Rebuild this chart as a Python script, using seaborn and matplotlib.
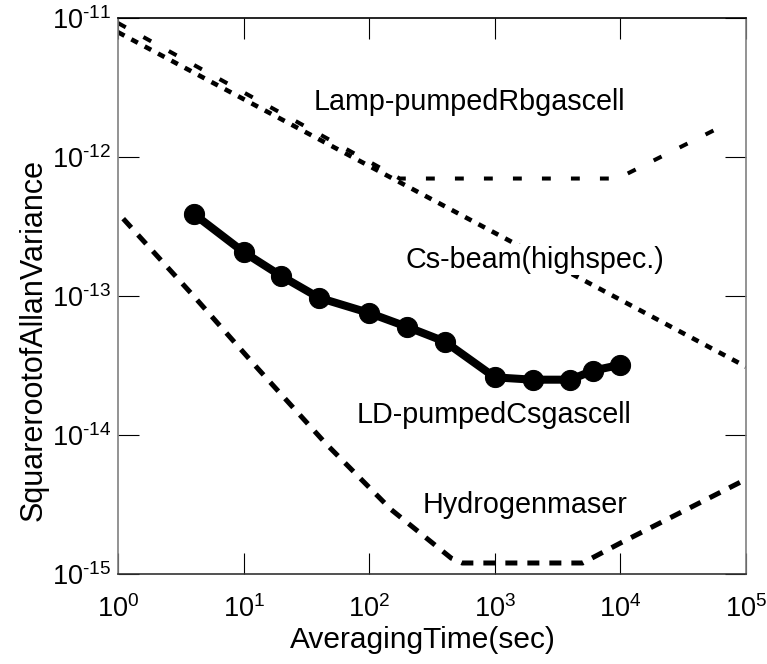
import math

import matplotlib
matplotlib.use("Agg")
import matplotlib.pyplot as plt
import seaborn as sns
from matplotlib.ticker import FixedLocator, FuncFormatter, NullLocator

# Lamp-pumped Rb gas cell
tau_rb = [1, 175, 9500, 72000]
adev_rb = [9.2e-12, 7.0e-13, 7.0e-13, 1.75e-12]

# Cs-beam (high spec.)
tau_cs = [1, 100000]
adev_cs = [7.9e-12, 3.1e-14]

# LD-pumped Cs gas cell (measured)
tau_ld = [4, 10, 20, 40, 100, 200, 400, 1000, 2000, 4000, 6000, 10000]
adev_ld = [3.9e-13, 2.07e-13, 1.39e-13, 9.7e-14, 7.55e-14, 6.0e-14, 4.7e-14,
           2.6e-14, 2.5e-14, 2.5e-14, 2.9e-14, 3.2e-14]

# Hydrogen maser
tau_h = [1.1, 4, 13, 45, 150, 450, 550, 5000, 10000, 100000]
adev_h = [3.6e-13, 1.0e-13, 3.0e-14, 8.7e-15, 2.9e-15, 1.3e-15, 1.2e-15,
          1.2e-15, 1.67e-15, 4.8e-15]

labels = ["Lamp-pumpedRbgascell", "Cs-beam(highspec.)",
          "LD-pumpedCsgascell", "Hydrogenmaser"]
label_pos = [(623, 2.49e-12), (2090, 1.82e-13), (986, 1.39e-14), (1740, 3.13e-15)]

x_ticks = [1, 10, 100, 1e3, 1e4, 1e5]
y_ticks = [1e-15, 1e-14, 1e-13, 1e-12, 1e-11]

sns.set_style("ticks")
plt.rcParams["font.family"] = ["Liberation Sans", "DejaVu Sans"]
plt.rcParams["mathtext.fontset"] = "custom"
plt.rcParams["mathtext.rm"] = "Liberation Sans"
plt.rcParams["mathtext.it"] = "Liberation Sans"
plt.rcParams["text.color"] = "black"
plt.rcParams["axes.labelcolor"] = "black"
plt.rcParams["xtick.color"] = "black"
plt.rcParams["ytick.color"] = "black"

W, H = 767, 664
fig = plt.figure(figsize=(W / 100, H / 100), dpi=100)
ax = fig.add_axes([118 / W, (H - 574) / H, 628 / W, 556 / H])
ax.set_xscale("log")
ax.set_yscale("log")

sns.lineplot(x=tau_rb, y=adev_rb, ax=ax, color="black", lw=2.9,
             linestyle=(0, (2.2, 5.0)))
sns.lineplot(x=tau_cs, y=adev_cs, ax=ax, color="black", lw=3.3,
             linestyle=(0, (1.6, 1.7)))
sns.lineplot(x=tau_h, y=adev_h, ax=ax, color="black", lw=3.6,
             linestyle=(0, (2.4, 2.0)))
sns.lineplot(x=tau_ld, y=adev_ld, ax=ax, color="black", lw=5.8,
             marker="o", markersize=14.5, markeredgecolor="black")

for txt, (xx, yy) in zip(labels, label_pos):
    ax.text(xx, yy, txt, ha="center", va="center", fontsize=20.7, zorder=5,
            bbox=dict(facecolor="white", edgecolor="none", pad=1))

ax.set_xlim(1, 1e5)
ax.set_ylim(1e-15, 1e-11)
ax.xaxis.set_major_locator(FixedLocator(x_ticks))
ax.yaxis.set_major_locator(FixedLocator(y_ticks))
ax.xaxis.set_minor_locator(NullLocator())
ax.yaxis.set_minor_locator(NullLocator())


def fmt(v, pos):
    n = int(round(math.log10(v)))
    if n < 0:
        return r"$\mathregular{10^{\text{-}%d}}$" % (-n)
    return r"$\mathregular{10^{%d}}$" % n


ax.xaxis.set_major_formatter(FuncFormatter(fmt))
ax.yaxis.set_major_formatter(FuncFormatter(fmt))
ax.tick_params(which="major", direction="in", length=15, width=0.8,
               top=True, right=True, labelsize=19.5, color="black")
ax.tick_params(axis="x", pad=15)
ax.tick_params(axis="y", pad=5)

ax.spines["left"].set_color("#808080")
ax.spines["right"].set_color("#808080")
ax.spines["top"].set_color("black")
ax.spines["bottom"].set_color("#333333")
for s in ax.spines.values():
    s.set_linewidth(1.2)

ax.set_xlabel("AveragingTime(sec)", fontsize=21.5)
ax.set_ylabel("SquarerootofAllanVariance", fontsize=22)
ax.xaxis.set_label_coords(0.485, -0.094)
ax.yaxis.set_label_coords(-0.11, 0.42)

fig.savefig("out.png", dpi=100)
